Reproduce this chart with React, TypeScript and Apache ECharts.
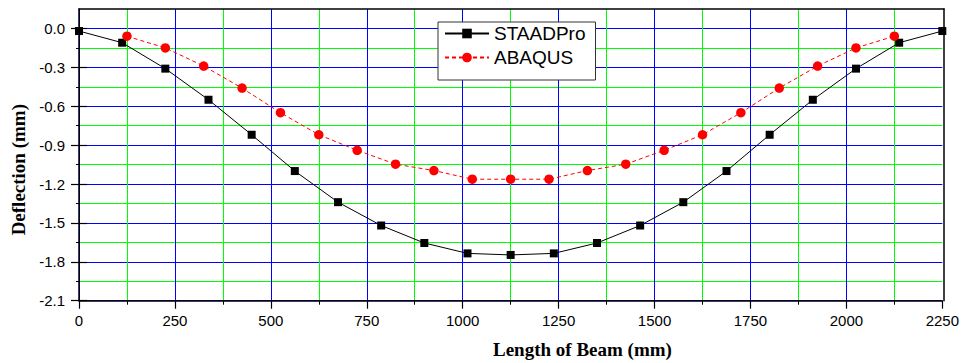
import React, { useEffect, useRef } from "react";
import * as echarts from "echarts";

const staadX = [0, 112.5, 225, 337.5, 450, 562.5, 675, 787.5, 900, 1012.5, 1125, 1237.5, 1350, 1462.5, 1575, 1687.5, 1800, 1912.5, 2025, 2137.5, 2250];
const staadY = [-0.02, -0.11, -0.31, -0.55, -0.82, -1.1, -1.34, -1.52, -1.655, -1.735, -1.747, -1.735, -1.655, -1.52, -1.34, -1.1, -0.82, -0.55, -0.31, -0.11, -0.02];
const abaqusX = [125, 225, 325, 425, 525, 625, 725, 825, 925, 1025, 1125, 1225, 1325, 1425, 1525, 1625, 1725, 1825, 1925, 2025, 2125];
const abaqusY = [-0.06, -0.15, -0.29, -0.46, -0.65, -0.82, -0.94, -1.047, -1.096, -1.163, -1.163, -1.163, -1.096, -1.047, -0.94, -0.82, -0.65, -0.46, -0.29, -0.15, -0.06];

const yMajorTicks = [-2.1, -1.8, -1.5, -1.2, -0.9, -0.6, -0.3, 0.0];
const yMinorTicks = [-1.95, -1.65, -1.35, -1.05, -0.75, -0.45, -0.15];

const SANS = "'Liberation Sans', Arial, sans-serif";
const SERIF = "'Liberation Serif', 'Times New Roman', serif";

export default function App() {
  const ref = useRef<HTMLDivElement>(null);
  useEffect(() => {
    if (!ref.current) return;
    const chart = echarts.init(ref.current, undefined, { renderer: "svg" });
    const rect = { left: 79, right: 18, top: 9, bottom: 62.3 };
    const hiddenAxis = {
      axisLine: { show: false },
      axisTick: { show: false },
      axisLabel: { show: false },
      splitLine: { show: false },
    };
    const yRange = { type: "value", min: -2.1, max: 0.15, interval: 0.15 };
    const xRange = { type: "value", min: 0, max: 2250, interval: 250 };
    chart.setOption({
      animation: false,
      backgroundColor: "#fff",
      grid: [
        { ...rect, show: false },
        { ...rect, show: false },
        { ...rect, show: false },
        { ...rect, show: false },
      ],
      legend: {
        orient: "vertical",
        left: 438,
        top: 22,
        padding: [2, 10, 13, 6],
        itemGap: 5,
        itemWidth: 44,
        itemHeight: 12,
        borderColor: "#333",
        borderWidth: 1,
        backgroundColor: "#fff",
        textStyle: { fontSize: 19, fontFamily: SANS, color: "#000" },
        data: ["STAADPro", "ABAQUS"],
      },
      xAxis: [
        {
          ...xRange,
          gridIndex: 0,
          axisLine: { show: true, onZero: false, lineStyle: { color: "#000", width: 1.5 } },
          axisTick: { show: true, length: 8, lineStyle: { color: "#000", width: 1.2 } },
          minorTick: { show: true, splitNumber: 2, length: 4, lineStyle: { color: "#000", width: 1 } },
          axisLabel: {
            margin: 12,
            fontSize: 15,
            fontFamily: SANS,
            color: "#000",
            formatter: (v: number) => String(Math.round(v)),
          },
          splitLine: { show: true, showMaxLine: false, lineStyle: { color: "#0000ff", width: 1 } },
          minorSplitLine: { show: true, lineStyle: { color: "#00ff00", width: 1 } },
        },
        {
          ...xRange,
          gridIndex: 1,
          position: "top",
          z: 5,
          ...hiddenAxis,
          axisLine: { show: true, onZero: false, lineStyle: { color: "#000", width: 1.5 } },
        },
        { ...xRange, gridIndex: 2, position: "bottom", ...hiddenAxis },
        { ...xRange, gridIndex: 3, position: "bottom", ...hiddenAxis },
      ],
      yAxis: [
        {
          ...yRange,
          gridIndex: 0,
          position: "left",
          axisLine: { show: true, onZero: false, lineStyle: { color: "#000", width: 1.5 } },
          axisTick: { show: false },
          axisLabel: {
            customValues: yMajorTicks,
            margin: 14,
            fontSize: 15,
            fontFamily: SANS,
            color: "#000",
            formatter: (v: number) => (Math.abs(v) < 1e-9 ? "0.0" : v.toFixed(1)),
          },
          splitLine: { show: true, showMaxLine: false, lineStyle: { color: ["#0000ff", "#00ff00"], width: 1 } },
        },
        {
          ...yRange,
          gridIndex: 1,
          position: "left",
          offset: -8,
          z: 5,
          ...hiddenAxis,
          axisTick: { show: true, customValues: yMajorTicks, length: 16, lineStyle: { color: "#000", width: 1.2 } },
        },
        {
          ...yRange,
          gridIndex: 2,
          position: "right",
          z: 5,
          ...hiddenAxis,
          axisLine: { show: true, onZero: false, lineStyle: { color: "#000", width: 1.5 } },
        },
        {
          ...yRange,
          gridIndex: 3,
          position: "left",
          z: 5,
          ...hiddenAxis,
          axisTick: { show: true, customValues: yMinorTicks, length: 3, lineStyle: { color: "#000", width: 1 } },
        },
      ],
      graphic: [
        {
          type: "text",
          x: 493,
          y: 349,
          style: {
            text: "Length of Beam (mm)",
            font: `bold 19px ${SERIF}`,
            fill: "#000",
            align: "left",
            verticalAlign: "middle",
          },
        },
        {
          type: "text",
          x: 18,
          y: 169.7,
          rotation: Math.PI / 2,
          style: {
            text: "Deflection (mm)",
            font: `bold 19px ${SERIF}`,
            fill: "#000",
            align: "center",
            verticalAlign: "middle",
          },
        },
      ],
      series: [
        {
          name: "STAADPro",
          type: "line",
          xAxisIndex: 0,
          yAxisIndex: 0,
          data: staadX.map((x, i) => [x, staadY[i]]),
          symbol: "rect",
          symbolSize: 8,
          itemStyle: { color: "#000" },
          lineStyle: { color: "#000", width: 1 },
          z: 3,
        },
        {
          name: "ABAQUS",
          type: "line",
          xAxisIndex: 0,
          yAxisIndex: 0,
          data: abaqusX.map((x, i) => [x, abaqusY[i]]),
          symbol: "circle",
          symbolSize: 9.5,
          itemStyle: { color: "#ff0000" },
          lineStyle: { color: "#ff0000", width: 1, type: [4, 3] },
          z: 4,
        },
      ],
    });
    return () => chart.dispose();
  }, []);
  return (
    <div
      ref={ref}
      style={{ position: "fixed", left: 0, top: 0, width: 962, height: 363 }}
    />
  );
}
